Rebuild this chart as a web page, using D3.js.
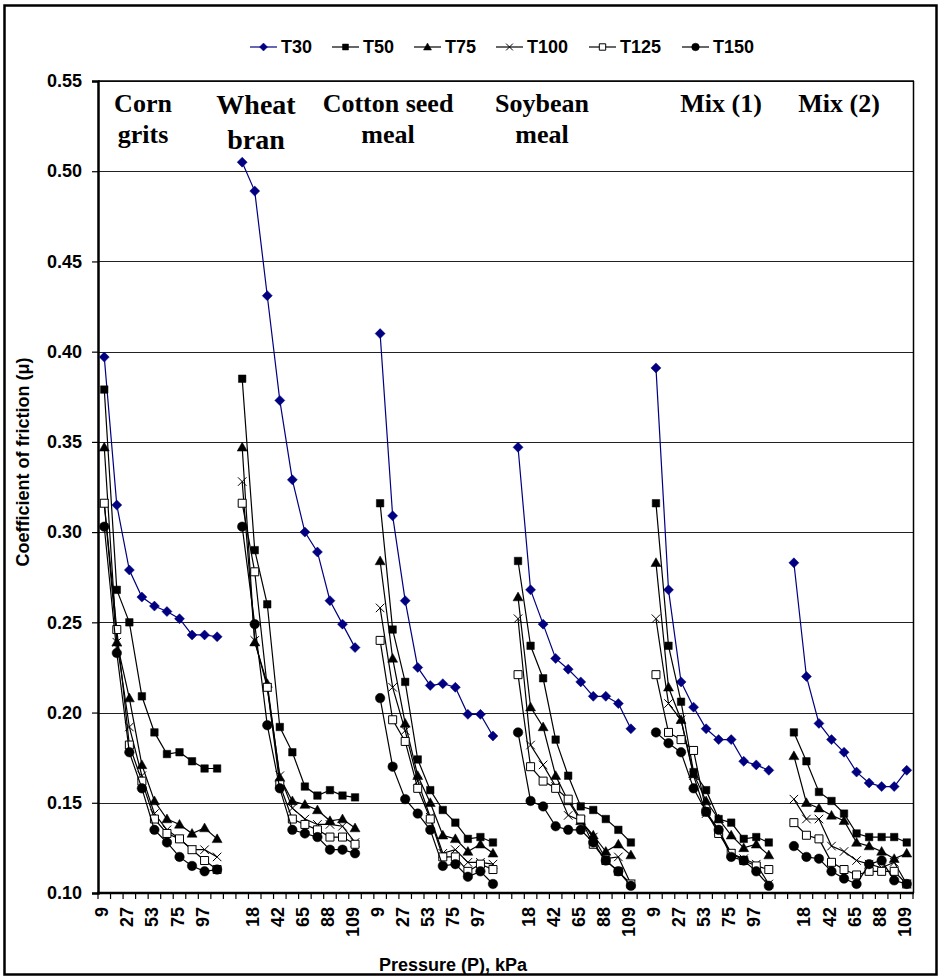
<!DOCTYPE html>
<html>
<head>
<meta charset="utf-8">
<script src="https://cdn.jsdelivr.net/npm/d3@7"></script>
<style>
  html, body { margin: 0; padding: 0; background: #fff; }
  svg { display: block; }
</style>
</head>
<body>
<div id="chart"></div>
<script>
// Materials and the pressures (kPa) tested for each one
const materials = [
  ['Corn', 'grits'],
  ['Wheat', 'bran'],
  ['Cotton seed', 'meal'],
  ['Soybean', 'meal'],
  ['Mix (1)'],
  ['Mix (2)'],
];
const pressures = [9, 18, 27, 42, 53, 65, 75, 88, 97, 109];

// Coefficient of friction, one row per material
const T30 = [
  [0.397, 0.315, 0.279, 0.264, 0.259, 0.256, 0.252, 0.243, 0.243, 0.242],
  [0.505, 0.489, 0.431, 0.373, 0.329, 0.300, 0.289, 0.262, 0.249, 0.236],
  [0.410, 0.309, 0.262, 0.225, 0.215, 0.216, 0.214, 0.199, 0.199, 0.187],
  [0.347, 0.268, 0.249, 0.230, 0.224, 0.217, 0.209, 0.209, 0.205, 0.191],
  [0.391, 0.268, 0.217, 0.203, 0.191, 0.185, 0.185, 0.173, 0.171, 0.168],
  [0.283, 0.220, 0.194, 0.185, 0.178, 0.167, 0.161, 0.159, 0.159, 0.168],
];
const T50 = [
  [0.379, 0.268, 0.250, 0.209, 0.189, 0.177, 0.178, 0.173, 0.169, 0.169],
  [0.385, 0.290, 0.260, 0.192, 0.178, 0.159, 0.154, 0.157, 0.154, 0.153],
  [0.316, 0.246, 0.217, 0.174, 0.157, 0.146, 0.139, 0.130, 0.131, 0.128],
  [0.284, 0.237, 0.219, 0.185, 0.165, 0.148, 0.146, 0.141, 0.135, 0.128],
  [0.316, 0.237, 0.206, 0.167, 0.157, 0.141, 0.139, 0.130, 0.131, 0.128],
  [0.189, 0.173, 0.156, 0.151, 0.144, 0.133, 0.131, 0.131, 0.131, 0.128],
];
const T75 = [
  [0.347, 0.239, 0.208, 0.171, 0.151, 0.141, 0.138, 0.133, 0.136, 0.130],
  [0.347, 0.239, 0.216, 0.164, 0.151, 0.149, 0.146, 0.140, 0.141, 0.136],
  [0.284, 0.230, 0.194, 0.165, 0.150, 0.132, 0.130, 0.123, 0.127, 0.122],
  [0.264, 0.203, 0.192, 0.165, 0.151, 0.140, 0.132, 0.123, 0.127, 0.121],
  [0.283, 0.214, 0.196, 0.166, 0.151, 0.141, 0.132, 0.125, 0.127, 0.121],
  [0.176, 0.150, 0.147, 0.143, 0.140, 0.128, 0.126, 0.123, 0.119, 0.122],
];
const T100 = [
  [0.316, 0.239, 0.192, 0.165, 0.144, 0.135, 0.130, 0.124, 0.124, 0.120],
  [0.328, 0.240, 0.214, 0.165, 0.147, 0.141, 0.138, 0.138, 0.137, 0.128],
  [0.258, 0.214, 0.190, 0.162, 0.142, 0.122, 0.124, 0.117, 0.117, 0.116],
  [0.252, 0.182, 0.171, 0.159, 0.143, 0.140, 0.131, 0.119, 0.120, 0.105],
  [0.252, 0.205, 0.196, 0.165, 0.144, 0.135, 0.122, 0.119, 0.116, 0.105],
  [0.152, 0.141, 0.141, 0.126, 0.123, 0.118, 0.116, 0.114, 0.117, 0.105],
];
const T125 = [
  [0.316, 0.246, 0.182, 0.162, 0.141, 0.133, 0.130, 0.124, 0.118, 0.113],
  [0.316, 0.278, 0.214, 0.160, 0.141, 0.138, 0.135, 0.131, 0.131, 0.127],
  [0.240, 0.196, 0.184, 0.158, 0.141, 0.120, 0.120, 0.112, 0.116, 0.113],
  [0.221, 0.170, 0.162, 0.158, 0.152, 0.141, 0.127, 0.118, 0.112, 0.105],
  [0.221, 0.189, 0.185, 0.179, 0.145, 0.133, 0.122, 0.118, 0.115, 0.113],
  [0.139, 0.132, 0.130, 0.117, 0.113, 0.110, 0.112, 0.112, 0.112, 0.105],
];
const T150 = [
  [0.303, 0.233, 0.178, 0.158, 0.135, 0.128, 0.120, 0.115, 0.112, 0.113],
  [0.303, 0.249, 0.193, 0.158, 0.135, 0.133, 0.131, 0.124, 0.124, 0.122],
  [0.208, 0.170, 0.152, 0.144, 0.135, 0.115, 0.116, 0.109, 0.112, 0.105],
  [0.189, 0.151, 0.148, 0.137, 0.135, 0.135, 0.128, 0.118, 0.112, 0.104],
  [0.189, 0.183, 0.178, 0.158, 0.145, 0.135, 0.120, 0.118, 0.112, 0.104],
  [0.126, 0.120, 0.119, 0.112, 0.108, 0.105, 0.116, 0.118, 0.107, 0.105],
];

const yTicks = [0.10, 0.15, 0.20, 0.25, 0.30, 0.35, 0.40, 0.45, 0.50, 0.55];

const SERIES = [
  { name: 'T30', values: T30, marker: 'diamond', color: '#000080' },
  { name: 'T50', values: T50, marker: 'square', color: '#000' },
  { name: 'T75', values: T75, marker: 'triangle', color: '#000' },
  { name: 'T100', values: T100, marker: 'cross', color: '#000' },
  { name: 'T125', values: T125, marker: 'openSquare', color: '#000' },
  { name: 'T150', values: T150, marker: 'circle', color: '#000' },
];

// Category slots: 10 pressures per material plus one blank slot between materials
const slots = [];
materials.forEach((m, g) => {
  pressures.forEach((p, j) => slots.push({ key: g * 11 + j, label: p }));
  if (g < materials.length - 1) slots.push({ key: g * 11 + 10, label: '' });
});

const W = 940;
const H = 979;
const plot = { left: 98, right: 913, top: 81, bottom: 893 };
const SANS = '"Liberation Sans", Arial, sans-serif';
const SERIF = '"Liberation Serif", "Times New Roman", serif';

const svg = d3
  .select('#chart')
  .append('svg')
  .attr('width', W)
  .attr('height', H)
  .attr('font-family', SANS);

// Outer frame
svg
  .append('rect')
  .attr('x', 4.5)
  .attr('y', 5.5)
  .attr('width', 932)
  .attr('height', 969)
  .attr('fill', '#fff')
  .attr('stroke', '#000')
  .attr('stroke-width', 2.5);

const x = d3
  .scaleBand()
  .domain(slots.map((d) => d.key))
  .range([plot.left, plot.right])
  .padding(0);

const y = d3
  .scaleLinear()
  .domain([0.1, 0.55])
  .range([plot.bottom, plot.top]);

// Gridlines
svg
  .append('g')
  .selectAll('line')
  .data(yTicks.slice(1))
  .join('line')
  .attr('x1', plot.left)
  .attr('x2', plot.right)
  .attr('y1', (d) => Math.round(y(d)) + 0.5)
  .attr('y2', (d) => Math.round(y(d)) + 0.5)
  .attr('stroke', '#222')
  .attr('stroke-width', 1);

// Right frame of plot area
svg
  .append('line')
  .attr('x1', plot.right + 0.5)
  .attr('x2', plot.right + 0.5)
  .attr('y1', plot.top)
  .attr('y2', plot.bottom)
  .attr('stroke', '#000')
  .attr('stroke-width', 1.5);

// Y axis
const yAxis = svg
  .append('g')
  .attr('transform', `translate(${plot.left},0)`)
  .call(
    d3
      .axisLeft(y)
      .tickValues(yTicks)
      .tickSize(6)
      .tickPadding(10)
      .tickFormat(d3.format('.2f'))
  );
yAxis.select('.domain').attr('stroke-width', 2.5);
yAxis.selectAll('.tick line').attr('stroke-width', 1.2);
yAxis
  .selectAll('text')
  .attr('font-size', 18)
  .attr('font-weight', 'bold')
  .attr('font-family', SANS);

// X axis: tick on every slot boundary, label every second slot
const boundaries = d3.range(slots.length + 1).map((i) => plot.left + i * x.bandwidth());
const xAxis = svg.append('g');
xAxis
  .append('line')
  .attr('x1', plot.left - 1)
  .attr('x2', plot.right + 1)
  .attr('y1', plot.bottom)
  .attr('y2', plot.bottom)
  .attr('stroke', '#000')
  .attr('stroke-width', 2.5);
xAxis
  .selectAll('line.tick')
  .data(boundaries)
  .join('line')
  .attr('class', 'tick')
  .attr('x1', (d) => d)
  .attr('x2', (d) => d)
  .attr('y1', plot.bottom)
  .attr('y2', plot.bottom + 6)
  .attr('stroke', '#000')
  .attr('stroke-width', 1.2);
xAxis
  .selectAll('text')
  .data(slots.filter((d, i) => i % 2 === 0 && d.label !== ''))
  .join('text')
  .attr(
    'transform',
    (d) => `translate(${x(d.key) + x.bandwidth() / 2 + 4},${plot.bottom + 14}) rotate(-90)`
  )
  .attr('text-anchor', 'end')
  .attr('font-size', 18)
  .attr('font-weight', 'bold')
  .text((d) => d.label);

// Top border of plot area (drawn over the 0.55 tick)
svg
  .append('line')
  .attr('x1', plot.left)
  .attr('x2', plot.right + 1)
  .attr('y1', plot.top)
  .attr('y2', plot.top)
  .attr('stroke', '#000')
  .attr('stroke-width', 1.5);

// Axis titles
svg
  .append('text')
  .attr('x', 453)
  .attr('y', 971)
  .attr('text-anchor', 'middle')
  .attr('font-size', 18)
  .attr('font-weight', 'bold')
  .text('Pressure (P), kPa');

svg
  .append('text')
  .attr('transform', 'translate(29,462) rotate(-90)')
  .attr('text-anchor', 'middle')
  .attr('font-size', 18)
  .attr('font-weight', 'bold')
  .text('Coefficient of friction (μ)');

// Marker shapes
function markerPath(type, s) {
  switch (type) {
    case 'diamond':
      return `M0,${-s}L${s},0L0,${s}L${-s},0Z`;
    case 'square':
      return d3.symbol(d3.symbolSquare, (s * 1.5) ** 2)();
    case 'triangle':
      return `M0,${-s}L${s},${s * 0.75}L${-s},${s * 0.75}Z`;
    case 'cross':
      return `M${-s * 0.85},${-s * 0.85}L${s * 0.85},${s * 0.85}M${-s * 0.85},${s * 0.85}L${s * 0.85},${-s * 0.85}`;
    case 'openSquare':
      return d3.symbol(d3.symbolSquare, (s * 1.6) ** 2)();
    default:
      return d3.symbol(d3.symbolCircle, Math.PI * (s * 0.95) ** 2)();
  }
}

function styleMarker(sel, s) {
  sel
    .attr('d', markerPath(s.marker, s.size))
    .attr('fill', s.marker === 'openSquare' ? '#fff' : s.marker === 'cross' ? 'none' : s.color)
    .attr('stroke', s.color)
    .attr('stroke-width', s.marker === 'cross' || s.marker === 'openSquare' ? 1 : 0.5);
}

const line = d3
  .line()
  .x((d) => x(d.key) + x.bandwidth() / 2)
  .y((d) => y(d.v));

// Series: each material is its own unbroken segment
SERIES.forEach((s) => {
  const g = svg.append('g');
  s.values.forEach((row, gi) => {
    const pts = row.map((v, j) => ({ key: gi * 11 + j, v }));
    g.append('path')
      .attr('d', line(pts))
      .attr('fill', 'none')
      .attr('stroke', s.color)
      .attr('stroke-width', 1.2);
    g.selectAll(null)
      .data(pts)
      .join('path')
      .attr('transform', (d) => `translate(${x(d.key) + x.bandwidth() / 2},${y(d.v)})`)
      .call(styleMarker, { ...s, size: 5 });
  });
});

// Material names
const titleX = [143, 256, 388, 542, 721, 839];
materials.forEach((lines, i) => {
  const big = i === 1;
  const t = svg
    .append('text')
    .attr('text-anchor', 'middle')
    .attr('font-family', SERIF)
    .attr('font-weight', 'bold')
    .attr('font-size', big ? 28 : 26);
  lines.forEach((l, k) => {
    t.append('tspan')
      .attr('x', titleX[i])
      .attr('y', 112 + k * (big ? 35 : 31) + (big ? 2 : 0))
      .text(l);
  });
});

// Legend
const legendX = [250, 332, 414, 496, 589, 682];
const legend = svg
  .append('g')
  .selectAll('g')
  .data(SERIES)
  .join('g')
  .attr('transform', (d, i) => `translate(${legendX[i]},47)`);
legend
  .append('line')
  .attr('x1', 0)
  .attr('x2', 27)
  .attr('stroke', (d) => d.color)
  .attr('stroke-width', 1.2);
legend.each(function (d) {
  d3.select(this)
    .append('path')
    .attr('transform', 'translate(13.5,0)')
    .call(styleMarker, { ...d, size: 4 });
});
legend
  .append('text')
  .attr('x', 31)
  .attr('dy', '0.35em')
  .attr('font-size', 18)
  .attr('font-weight', 'bold')
  .text((d) => d.name);
</script>
</body>
</html>
